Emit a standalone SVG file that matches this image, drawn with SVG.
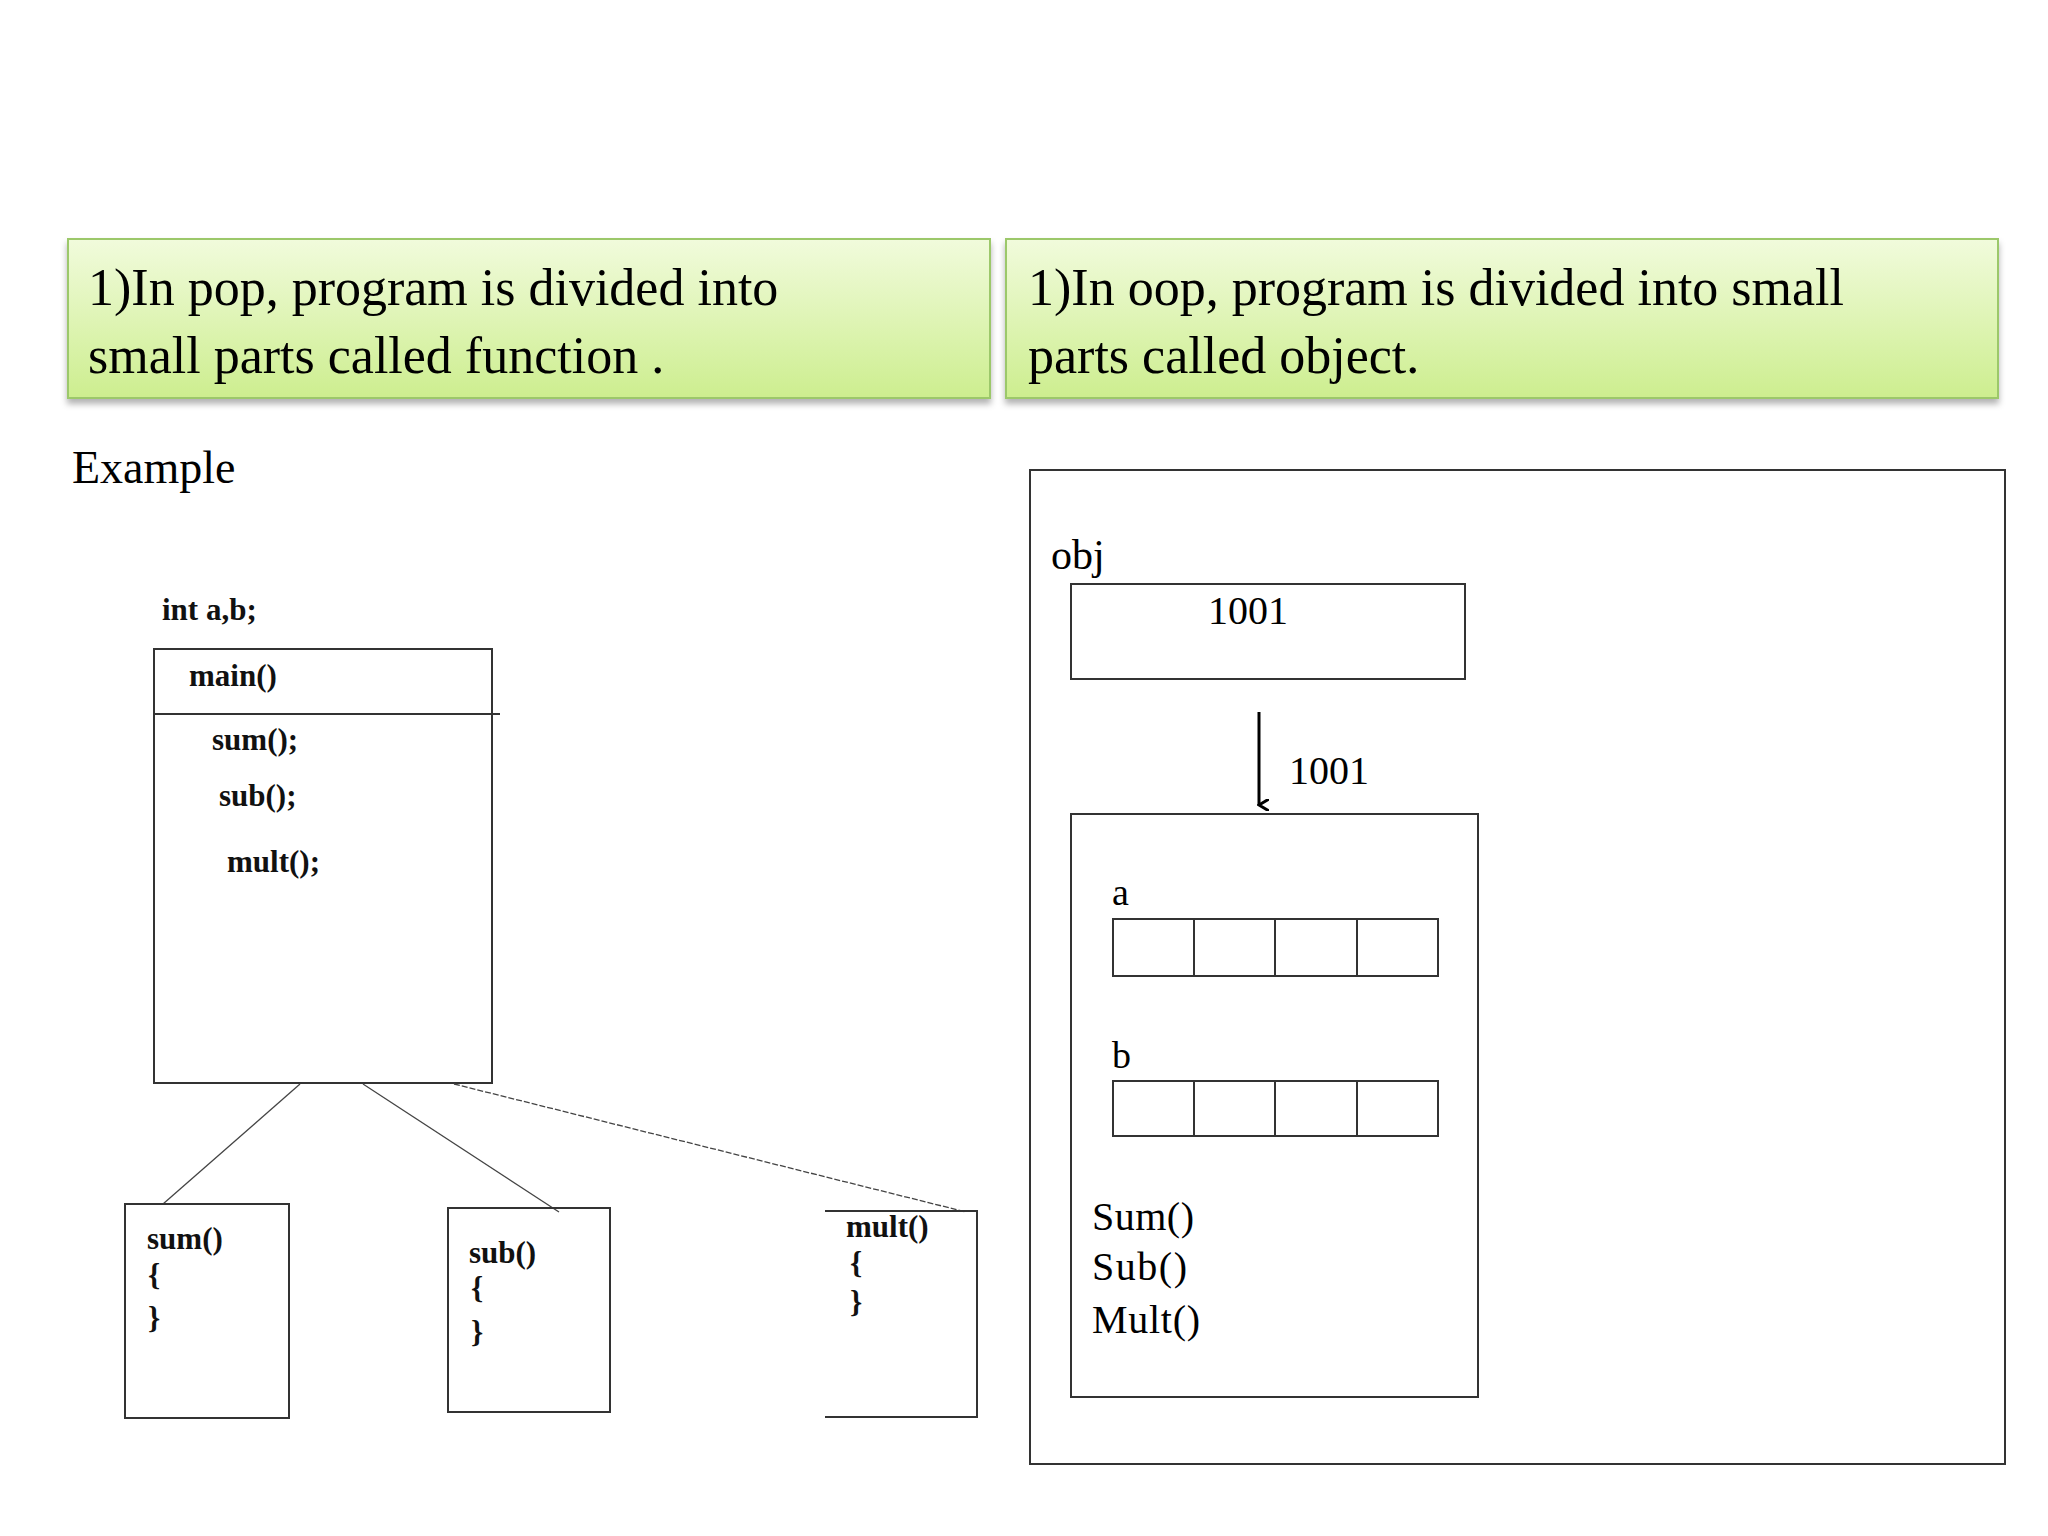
<svg xmlns="http://www.w3.org/2000/svg" width="2048" height="1536" viewBox="0 0 2048 1536">
<defs>
<linearGradient id="g" x1="0" y1="0" x2="0" y2="1"><stop offset="0" stop-color="#f1fbdc"/><stop offset="1" stop-color="#cdee8f"/></linearGradient>
<filter id="sh" x="-5%" y="-10%" width="110%" height="130%"><feDropShadow dx="0" dy="5" stdDeviation="3" flood-color="#000" flood-opacity="0.3"/></filter>
<marker id="ar" markerWidth="12" markerHeight="12" refX="6" refY="10" orient="auto" markerUnits="userSpaceOnUse"><path d="M0,0 L6,10 L12,0" fill="none" stroke="#000" stroke-width="3"/></marker>
</defs>
<style>
.t{font-family:"Liberation Serif",serif;fill:#000}
.b{font-family:"Liberation Serif",serif;font-weight:bold;fill:#111}
.box{fill:none;stroke:#333;stroke-width:2}
.ln{stroke:#444;stroke-width:1.3;fill:none}
</style>
<rect width="2048" height="1536" fill="#fff"/>
<g id="pop-card"><rect x="68" y="239" width="922" height="159" fill="url(#g)" stroke="#9cc86a" stroke-width="2" filter="url(#sh)"/>
<text class="t" font-size="52" x="88" y="305">1)In  pop, program is divided into</text>
<text class="t" font-size="52" x="88" y="373">small parts called function .</text></g>
<g id="oop-card"><rect x="1006" y="239" width="992" height="159" fill="url(#g)" stroke="#9cc86a" stroke-width="2" filter="url(#sh)"/>
<text class="t" font-size="52" x="1028" y="305">1)In oop, program is divided into small</text>
<text class="t" font-size="52" x="1028" y="373">parts called object.</text></g>
<text class="t" font-size="46" x="72" y="483">Example</text>
<text class="b" font-size="31" x="162" y="620">int a,b;</text>
<g id="main"><rect class="box" x="154" y="649" width="338" height="434"/>
<line class="box" x1="154" y1="714" x2="500" y2="714"/>
<text class="b" font-size="31" x="189" y="686">main()</text>
<text class="b" font-size="31" x="212" y="750">sum();</text>
<text class="b" font-size="31" x="219" y="806">sub();</text>
<text class="b" font-size="31" x="227" y="872">mult();</text></g>
<g id="connectors">
<line class="ln" x1="300" y1="1084" x2="163" y2="1204"/>
<line class="ln" x1="363" y1="1084" x2="559" y2="1212"/>
<line class="ln" x1="454" y1="1084" x2="966" y2="1212" stroke-dasharray="6,2"/>
<line x1="1259" y1="712" x2="1259" y2="805" stroke="#000" stroke-width="3" marker-end="url(#ar)"/>
</g>
<g id="sum"><rect class="box" x="125" y="1204" width="164" height="214"/>
<text class="b" font-size="31" x="147" y="1249">sum()</text>
<text class="b" font-size="31" x="148" y="1285">{</text><text class="b" font-size="31" x="148" y="1328">}</text></g>
<g id="sub"><rect class="box" x="448" y="1208" width="162" height="204"/>
<text class="b" font-size="31" x="469" y="1263">sub()</text>
<text class="b" font-size="31" x="471" y="1298">{</text><text class="b" font-size="31" x="471" y="1342">}</text></g>
<g id="mult"><path class="box" d="M825,1211 H977 V1417 H825"/>
<text class="b" font-size="31" x="846" y="1237">mult()</text>
<text class="b" font-size="31" x="850" y="1273">{</text><text class="b" font-size="31" x="850" y="1312">}</text></g>
<g id="object"><rect class="box" x="1030" y="470" width="975" height="994"/>
<text class="t" font-size="42" x="1051" y="569">obj</text>
<rect class="box" x="1071" y="584" width="394" height="95"/>
<text class="t" font-size="40" x="1248" y="624" text-anchor="middle">1001</text>
<text class="t" font-size="40" x="1289" y="784">1001</text>
<rect class="box" x="1071" y="814" width="407" height="583"/>
<text class="t" font-size="38" x="1112" y="905">a</text>
<rect class="box" x="1113" y="919" width="325" height="57"/>
<path class="box" d="M1194,919V976M1275,919V976M1357,919V976"/>
<text class="t" font-size="38" x="1112" y="1068">b</text>
<rect class="box" x="1113" y="1081" width="325" height="55"/>
<path class="box" d="M1194,1081V1136M1275,1081V1136M1357,1081V1136"/>
<text class="t" font-size="40" x="1092" y="1230" textLength="102">Sum()</text>
<text class="t" font-size="40" x="1092" y="1280" textLength="95">Sub()</text>
<text class="t" font-size="40" x="1092" y="1333" textLength="108">Mult()</text></g>
</svg>
